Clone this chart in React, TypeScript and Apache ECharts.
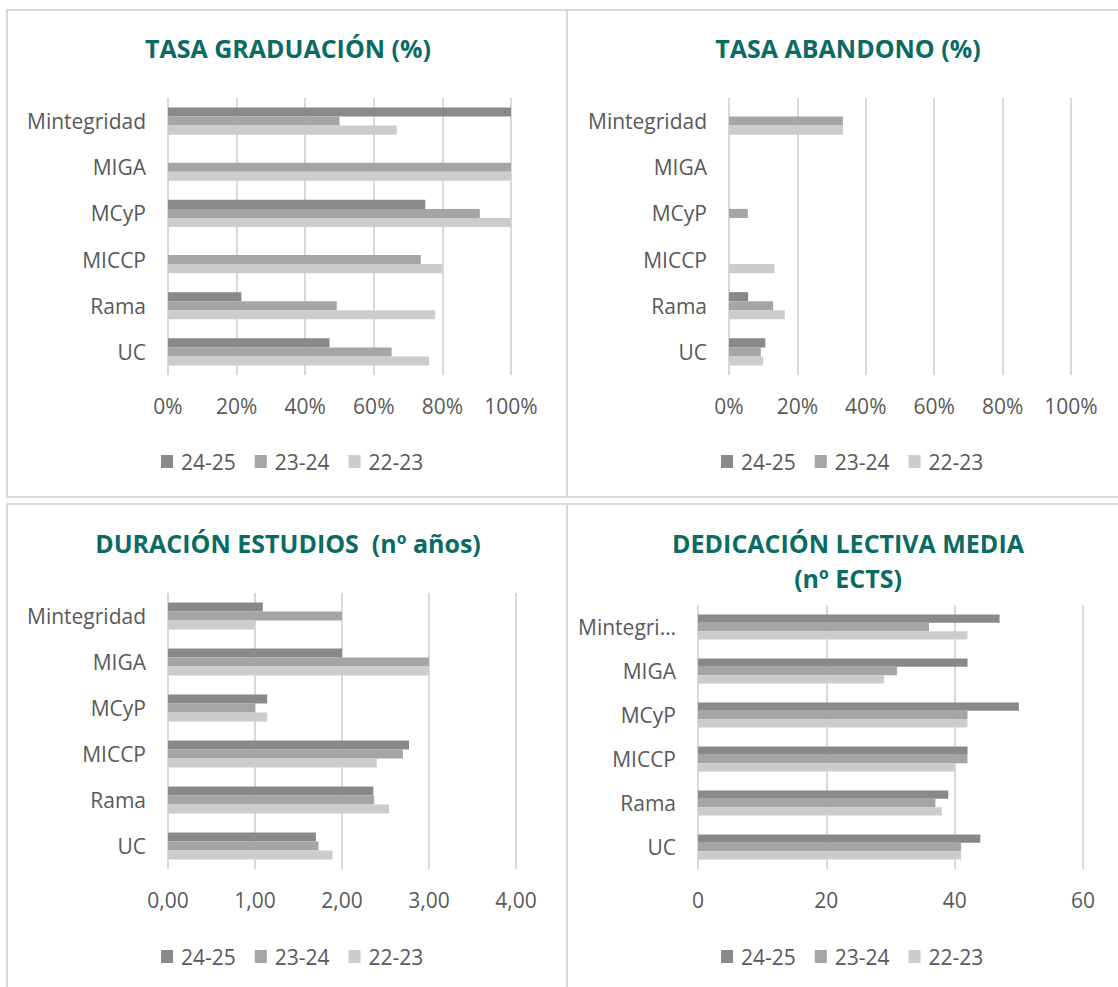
import React, { useEffect, useRef } from "react";
import * as echarts from "echarts";

const categories = ["UC", "Rama", "MICCP", "MCyP", "MIGA", "Mintegridad"];
const seriesNames = ["24-25", "23-24", "22-23"];
const seriesColors = ["#898989", "#a5a5a5", "#cccccc"];

// Tasa graduación (%)
const grad2425 = [47.1, 21.4, null, 75, null, 100];
const grad2324 = [65.2, 49.2, 73.7, 90.9, 100, 50];
const grad2223 = [76.1, 77.9, 80, 100, 100, 66.7];

// Tasa abandono (%)
const aban2425 = [10.6, 5.6, 0, 0, 0, 0];
const aban2324 = [9.3, 12.9, 0, 5.5, 0, 33.3];
const aban2223 = [10.0, 16.3, 13.3, 0, 0, 33.3];

// Duración estudios (nº años)
const dur2425 = [1.7, 2.36, 2.77, 1.14, 2.0, 1.09];
const dur2324 = [1.73, 2.37, 2.7, 1.0, 3.0, 2.0];
const dur2223 = [1.89, 2.54, 2.4, 1.14, 3.0, 1.0];

// Dedicación lectiva media (nº ECTS)
const ded2425 = [44, 39, 42, 50, 42, 47];
const ded2324 = [41, 37, 42, 42, 31, 36];
const ded2223 = [41, 38, 40, 42, 29, 42];

const titles = [
  "TASA GRADUACIÓN (%)",
  "TASA ABANDONO (%)",
  "DURACIÓN ESTUDIOS  (nº años)",
  "DEDICACIÓN LECTIVA MEDIA\n(nº ECTS)",
];

const FONT = "Open Sans";
const LABEL = "#595959";
const GRIDLINE = "#d9d9d9";
const TEAL = "#0b6b63";
const FS = 21;

export default function App() {
  const ref = useRef<HTMLDivElement>(null);
  useEffect(() => {
    if (!ref.current) return;
    const chart = echarts.init(ref.current, undefined, { renderer: "svg" });

    const panels = [
      { data: [grad2425, grad2324, grad2223], grid: { left: 168, top: 98, width: 343, height: 277 }, max: 100, interval: 20, fmt: (v: number) => v + "%", legendLeft: 156, legendTop: 446, gap: "41%" },
      { data: [aban2425, aban2324, aban2223], grid: { left: 729, top: 98, width: 342, height: 277 }, max: 100, interval: 20, fmt: (v: number) => v + "%", legendLeft: 716, legendTop: 446, gap: "41%" },
      { data: [dur2425, dur2324, dur2223], grid: { left: 168, top: 593, width: 348, height: 276 }, max: 4, interval: 1, fmt: (v: number) => v.toFixed(2).replace(".", ","), legendLeft: 156, legendTop: 941, gap: "41%" },
      { data: [ded2425, ded2324, ded2223], grid: { left: 698, top: 605, width: 385, height: 264 }, max: 60, interval: 20, fmt: (v: number) => String(v), legendLeft: 716, legendTop: 941, gap: "43%" },
    ];

    const grid: any[] = [];
    const xAxis: any[] = [];
    const yAxis: any[] = [];
    const series: any[] = [];
    const legend: any[] = [];

    panels.forEach((p, i) => {
      grid.push({ ...p.grid, outerBoundsMode: "none", containLabel: false });
      xAxis.push({
        type: "value",
        gridIndex: i,
        min: 0,
        max: p.max,
        interval: p.interval,
        axisLine: { show: false },
        axisTick: { show: false },
        splitLine: { show: true, lineStyle: { color: GRIDLINE, width: 2 } },
        axisLabel: { color: LABEL, fontSize: FS, fontFamily: FONT, margin: 20, formatter: p.fmt },
      });
      yAxis.push({
        type: "category",
        gridIndex: i,
        data: categories,
        axisLine: { show: false },
        axisTick: { show: false },
        splitLine: { show: false },
        axisLabel: {
          color: LABEL,
          fontSize: FS,
          fontFamily: FONT,
          margin: 22,
          formatter: i === 3 ? (v: string) => (v.length > 9 ? v.slice(0, 8) + "…" : v) : undefined,
        },
      });
      seriesNames.forEach((name, s) => {
        series.push({
          type: "bar",
          name,
          xAxisIndex: i,
          yAxisIndex: i,
          data: p.data[s],
          barGap: "0%",
          barCategoryGap: p.gap,
          itemStyle: { color: seriesColors[s] },
          emphasis: { disabled: true },
        });
      });
      legend.push({
        data: seriesNames,
        left: p.legendLeft,
        top: p.legendTop,
        itemWidth: 12,
        itemHeight: 13,
        itemGap: 19,
        icon: "rect",
        selectedMode: false,
        textStyle: { color: LABEL, fontSize: FS, fontFamily: FONT, padding: [0, 0, 0, 3] },
      });
    });

    const titleCenters = [
      [288, 48],
      [848, 48],
      [288, 543],
      [848, 560],
    ];

    const graphic: any[] = [
      { type: "rect", shape: { x: 7, y: 10, width: 560, height: 487 }, style: { fill: "none", stroke: GRIDLINE, lineWidth: 2 }, silent: true },
      { type: "rect", shape: { x: 567, y: 10, width: 570, height: 487 }, style: { fill: "none", stroke: GRIDLINE, lineWidth: 2 }, silent: true },
      { type: "rect", shape: { x: 7, y: 504, width: 560, height: 500 }, style: { fill: "none", stroke: GRIDLINE, lineWidth: 2 }, silent: true },
      { type: "rect", shape: { x: 567, y: 504, width: 570, height: 500 }, style: { fill: "none", stroke: GRIDLINE, lineWidth: 2 }, silent: true },
    ];
    titles.forEach((t, i) => {
      graphic.push({
        type: "text",
        x: titleCenters[i][0],
        y: titleCenters[i][1],
        silent: true,
        style: {
          text: t,
          align: "center",
          verticalAlign: "middle",
          fontFamily: FONT,
          fontWeight: "bold",
          fontSize: 25,
          lineHeight: 35,
          fill: TEAL,
        },
      });
    });

    chart.setOption({
      animation: false,
      textStyle: { fontFamily: FONT },
      grid,
      xAxis,
      yAxis,
      series,
      legend,
      graphic,
    });
    return () => chart.dispose();
  }, []);

  return (
    <div
      ref={ref}
      style={{ position: "fixed", left: 0, top: 0, width: 1118, height: 987, background: "#fff" }}
    />
  );
}
